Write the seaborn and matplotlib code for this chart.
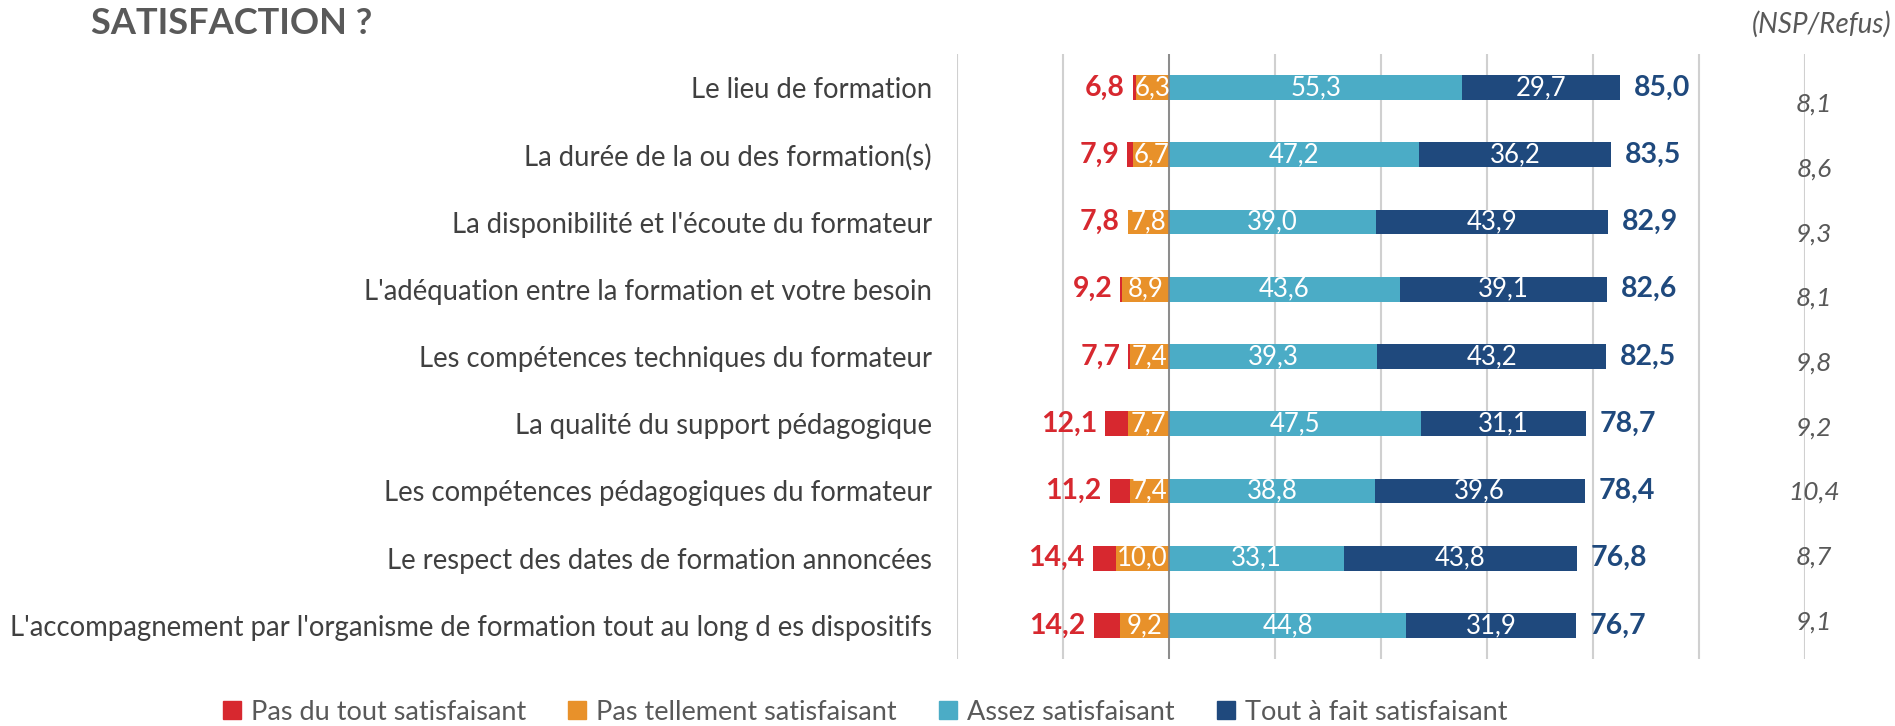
import matplotlib
matplotlib.use("Agg")
import matplotlib.pyplot as plt
from matplotlib.lines import Line2D
import seaborn as sns
import numpy as np

# Data (percent)
categories = [
    "Le lieu de formation",
    "La durée de la ou des formation(s)",
    "La disponibilité et l'écoute du formateur",
    "L'adéquation entre la formation et votre besoin",
    "Les compétences techniques du formateur",
    "La qualité du support pédagogique",
    "Les compétences pédagogiques du formateur",
    "Le respect des dates de formation annoncées",
    "L'accompagnement par l'organisme de formation tout au long d es dispositifs",
]
pas_du_tout = [0.5, 1.2, 0.0, 0.3, 0.3, 4.4, 3.8, 4.4, 5.0]
pas_tellement = [6.3, 6.7, 7.8, 8.9, 7.4, 7.7, 7.4, 10.0, 9.2]
assez = [55.3, 47.2, 39.0, 43.6, 39.3, 47.5, 38.8, 33.1, 44.8]
tout_a_fait = [29.7, 36.2, 43.9, 39.1, 43.2, 31.1, 39.6, 43.8, 31.9]
total_neg = [6.8, 7.9, 7.8, 9.2, 7.7, 12.1, 11.2, 14.4, 14.2]
total_pos = [85.0, 83.5, 82.9, 82.6, 82.5, 78.7, 78.4, 76.8, 76.7]
nsp = [8.1, 8.6, 9.3, 8.1, 9.8, 9.2, 10.4, 8.7, 9.1]
legend_labels = ["Pas du tout satisfaisant", "Pas tellement satisfaisant",
                 "Assez satisfaisant", "Tout à fait satisfaisant"]

RED = "#D7282F"
ORANGE = "#E8912A"
LIGHT = "#4BACC6"
DARK = "#1F497D"
GREY = "#595959"

sns.set_style("white")
plt.rcParams["font.family"] = ["Lato", "DejaVu Sans"]


def fmt(v):
    return f"{v:.1f}".replace(".", ",")


W, H = 1895, 726
fig = plt.figure(figsize=(W / 100, H / 100), dpi=100)
ax = fig.add_axes([957 / W, 1 - 659 / H, 848 / W, 605 / H])

neg_full = -(np.array(pas_du_tout) + np.array(pas_tellement))
neg_or = -np.array(pas_tellement)
pos_full = np.array(assez) + np.array(tout_a_fait)
pos_as = np.array(assez)

bw = 0.37
for vals, col in [(neg_full, RED), (neg_or, ORANGE), (pos_full, DARK), (pos_as, LIGHT)]:
    sns.barplot(x=vals, y=categories, orient="h", color=col, width=bw,
                saturation=1, linewidth=0, ax=ax)

ax.set_xlim(-40, 120)
ax.set_ylim(len(categories) - 0.5, -0.5)
ax.set_xticks(np.arange(-40, 121, 20))
ax.grid(axis="x", color="#D0D0D0", lw=1.5)
ax.set_axisbelow(True)
ax.axvline(0, color="#808080", lw=1.2, zorder=3)
for s in ax.spines.values():
    s.set_visible(False)
ax.tick_params(axis="x", length=0, labelbottom=False)
ax.tick_params(axis="y", length=0, pad=18, labelsize=19.8, labelcolor="#404040")
ax.set_xlabel("")
ax.set_ylabel("")

px = 160 / 848  # data units per pixel
for i in range(len(categories)):
    # inside labels
    ax.text(-pas_tellement[i] / 2, i, fmt(pas_tellement[i]), ha="center", va="center",
            color="white", fontsize=18.5, zorder=5)
    ax.text(assez[i] / 2, i, fmt(assez[i]), ha="center", va="center",
            color="white", fontsize=18.5, zorder=5)
    ax.text(assez[i] + tout_a_fait[i] / 2, i, fmt(tout_a_fait[i]), ha="center",
            va="center", color="white", fontsize=18.5, zorder=5)
    # totals
    ax.text(neg_full[i] - 8 * px, i, fmt(total_neg[i]), ha="right", va="center",
            color=RED, fontsize=20.5, fontweight="bold", zorder=5)
    ax.text(pos_full[i] + 14 * px, i, fmt(total_pos[i]), ha="left", va="center",
            color=DARK, fontsize=20.5, fontweight="bold", zorder=5)

# NSP / Refus column
ax2 = fig.add_axes([1790 / W, 1 - 654 / H, 48 / W, 582 / H])
ax2.set_xlim(0, 1)
ax2.set_ylim(len(nsp) - 0.5, -0.5)
ax2.axis("off")
for i, v in enumerate(nsp):
    ax2.text(0.5, i, fmt(v), ha="center", va="center", color=GREY,
             fontsize=19, fontstyle="italic")
fig.text(1891 / W, 1 - 24 / H, "(NSP/Refus)", ha="right", va="center",
         color=GREY, fontsize=20, fontstyle="italic")

fig.text(91 / W, 1 - 24 / H, "SATISFACTION ?", ha="left", va="center",
         color=GREY, fontsize=26, fontweight="bold")

handles = [Line2D([], [], marker="s", linestyle="", markersize=13,
                  markerfacecolor=c, markeredgecolor=c)
           for c in [RED, ORANGE, LIGHT, DARK]]
leg = fig.legend(handles, legend_labels, loc="center", ncol=4,
                 bbox_to_anchor=(865 / W, 1 - 712 / H), frameon=False,
                 fontsize=19.5, handlelength=0.7, handletextpad=0.35,
                 columnspacing=1.55)
for t in leg.get_texts():
    t.set_color(GREY)

fig.savefig("out.png", dpi=100)
